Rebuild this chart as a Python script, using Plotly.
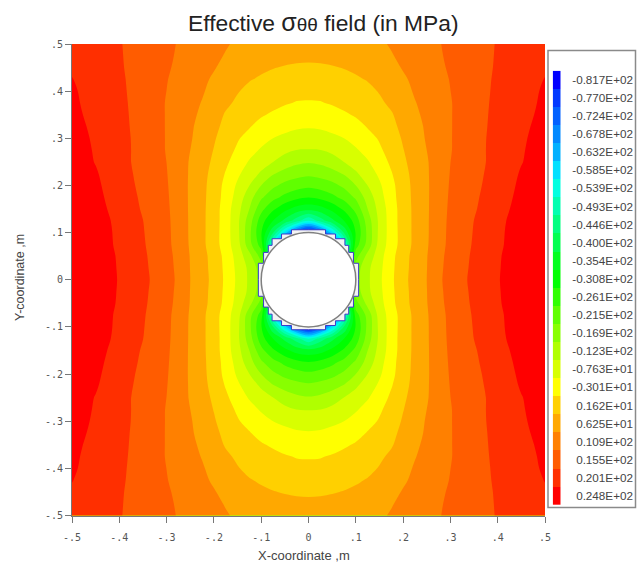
import plotly.graph_objects as go

x_quad = [0, .025, .05, .075, .1, .125, .15, .175, .2, .225, .25, .275, .3, .35, .4, .45, .5]
y_quad = [0, .025, .05, .075, .1, .125, .15, .175, .2, .225, .25, .275, .3, .325, .35, .375, .4, .425, .45, .475, .5]

# one row per y_quad value, one column per x_quad value
z_quad = [
    [-60, -45, -32, -22, -16.5, -10.8, -6.2, -1.6, 2.6, 5.8, 8.6, 12.4, 15, 19, 22.2, 25.3, 27],
    [-70, -55, -38, -25, -17, -11, -6.5, -1.8, 2.4, 5.6, 8.5, 12.2, 14.8, 18.8, 22.1, 25.2, 27],
    [-85, -75, -65, -45, -21, -13, -7.1, -2.1, 2.2, 5.5, 8.4, 12, 14.6, 18.6, 22, 25, 27],
    [-90, -88, -80, -55, -26, -17.5, -8, -3.2, 1.6, 5, 8.1, 11.6, 14.3, 18.3, 21.7, 24.7, 26.7],
    [-85, -75, -58, -42, -28, -18, -8.6, -3.2, 1.5, 5, 8, 11.5, 14.2, 18.1, 21.6, 24.6, 26.5],
    [-51.6, -45, -39, -33.1, -26.3, -17, -8.8, -3, 1.5, 5, 8, 11.4, 14.1, 17.9, 21.4, 24.4, 26.3],
    [-36, -35, -31.7, -27.6, -22.4, -14.6, -8.2, -3, 1.6, 5, 8, 11.1, 14, 17.4, 21, 23.9, 25.9],
    [-28.2, -27, -25, -22.3, -18.4, -12.6, -7.1, -2.4, 1.8, 5.1, 8, 11, 13.8, 17.1, 20.5, 23.6, 25.6],
    [-22.8, -22, -20.6, -18.2, -14.6, -9.9, -6, -2, 2, 5.2, 8, 10.9, 13.6, 16.8, 20, 23.3, 25.3],
    [-18.2, -17.4, -16.2, -14.2, -10.6, -7.6, -4.5, -1, 2.5, 5.4, 8.1, 10.8, 13.4, 16.6, 19.6, 22.9, 25],
    [-14.2, -13.6, -12, -9.9, -7.9, -5.7, -2.9, .2, 3.2, 5.7, 8.2, 10.8, 13.2, 16.5, 19.2, 22.3, 24.8],
    [-10.1, -10, -8.9, -7.2, -5.8, -3.7, -1.3, 1, 3.8, 6.2, 8.6, 10.9, 13, 16.4, 19.3, 22.1, 24.5],
    [-7.5, -7.1, -6.3, -5.3, -3.7, -2, -.3, 2, 4.4, 6.7, 9, 11, 13, 16.2, 19.4, 21.9, 24.2],
    [-4.9, -4.7, -4, -3.2, -2.1, -.4, 1.3, 2.9, 5, 7.2, 9.2, 11.1, 13, 16, 19.3, 21.6, 23.9],
    [-3, -2.7, -2.2, -1.3, -.2, 1, 2.3, 3.6, 5.6, 7.8, 9.6, 11.2, 13, 16, 19.1, 21.3, 23.5],
    [-1, -.9, -.3, .6, 1.5, 2.4, 3.3, 4.7, 6.5, 8.4, 9.9, 11.4, 13, 16, 18.9, 21.1, 23.2],
    [.45, .55, .8, 1.3, 2, 3, 4.2, 5.7, 7.3, 9, 10.3, 11.7, 13.2, 16, 18.7, 20.9, 23],
    [2.2, 2.3, 2.5, 2.9, 3.5, 4.2, 5.2, 6.5, 8, 9.5, 10.8, 12, 13.4, 16.1, 18.5, 20.7, 22.6],
    [3.5, 3.55, 3.75, 4.1, 4.6, 5.3, 6.2, 7.4, 8.9, 10.2, 11.3, 12.5, 13.7, 16.1, 18.3, 20.4, 22.1],
    [4.6, 4.7, 4.9, 5.3, 5.8, 6.4, 7.2, 8.3, 9.6, 10.8, 11.7, 12.8, 13.9, 16.1, 18.2, 20.2, 21.9],
    [5.5, 5.5, 5.7, 6, 6.4, 7, 7.9, 9, 10.1, 11.1, 12.1, 13, 14, 16.2, 18.1, 20, 21.8],
]

# Legend
legend_labels = ["-0.817E+02", "-0.770E+02", "-0.724E+02", "-0.678E+02", "-0.632E+02", "-0.585E+02",
                 "-0.539E+02", "-0.493E+02", "-0.446E+02", "-0.400E+02", "-0.354E+02", "-0.308E+02",
                 "-0.261E+02", "-0.215E+02", "-0.169E+02", "-0.123E+02", "-0.763E+01", "-0.301E+01",
                 "0.162E+01", "0.625E+01", "0.109E+02", "0.155E+02", "0.201E+02", "0.248E+02"]
legend_values = [-81.7, -77.0, -72.4, -67.8, -63.2, -58.5, -53.9, -49.3, -44.6, -40.0, -35.4, -30.8,
                 -26.1, -21.5, -16.9, -12.3, -7.63, -3.01, 1.62, 6.25, 10.9, 15.5, 20.1, 24.8]
legend_colors = ["#0000ff", "#0038ff", "#0060ff", "#0088ff", "#00b0ff", "#00e0ff",
                 "#00ffe0", "#00ffb0", "#00ff80", "#00ff50", "#00ff20", "#00ff00",
                 "#30ff00", "#60ff00", "#88ff00", "#b0ff00", "#d8ff00", "#ffff00",
                 "#ffd000", "#ffa800", "#ff8000", "#ff5c00", "#ff3000", "#ff0000"]

# Axis ticks
tick_vals = [-.5, -.4, -.3, -.2, -.1, 0, .1, .2, .3, .4, .5]
tick_text = ["-.5", "-.4", "-.3", "-.2", "-.1", "0", ".1", ".2", ".3", ".4", ".5"]

# Stepped mesh edge round the hole (upper-left quadrant)
stair_x = [0, -.036, -.036, -.057, -.057, -.077, -.077, -.085, -.085, -.095, -.095, -.106, -.106]
stair_y = [.106, .106, .097, .097, .087, .087, .073, .073, .058, .058, .035, .035, 0]
hole_radius = .1

# ---- mirror the quadrant into the full square
x_full = [-v for v in reversed(x_quad[1:])] + x_quad
y_full = [-v for v in reversed(y_quad[1:])] + y_quad
rows = [list(reversed(r[1:])) + r for r in z_quad]
z_full = list(reversed(rows[1:])) + rows

# closed loop: upper-left, lower-left, lower-right, upper-right
loop_x = stair_x + list(reversed(stair_x[:-1])) + [-v for v in stair_x[1:]] + [-v for v in reversed(stair_x[:-1])]
loop_y = stair_y + [-v for v in reversed(stair_y[:-1])] + [-v for v in stair_y[1:]] + list(reversed(stair_y[:-1]))

zmin, zmax = legend_values[0], legend_values[-1]
colorscale = [[(v - zmin) / (zmax - zmin), c] for v, c in zip(legend_values, legend_colors)]
step = (zmax - zmin) / (len(legend_values) - 1)

W, H = 641, 563
fig = go.Figure()
fig.add_trace(go.Contour(
    x=x_full, y=y_full, z=z_full, colorscale=colorscale, zmin=zmin, zmax=zmax, showscale=False,
    autocontour=False,
    contours=dict(start=zmin + step / 2, end=zmax - step / 2 + 1e-6, size=step, coloring="fill", showlines=False),
    line=dict(width=0, smoothing=1.0), hoverinfo="skip",
))
fig.add_trace(go.Scatter(
    x=loop_x, y=loop_y, mode="lines", fill="toself", fillcolor="#f4f4f4",
    line=dict(color="#3a3ac8", width=1), hoverinfo="skip", showlegend=False,
))
fig.add_trace(go.Heatmap(
    x=[0], y=legend_labels, z=[[v] for v in legend_values], xaxis="x2", yaxis="y2",
    colorscale=colorscale, zmin=zmin, zmax=zmax, showscale=False, hoverinfo="skip",
))

tick_font = dict(family="DejaVu Sans Mono", size=10, color="#555555")
axis_common = dict(range=[-.5, .5], tickmode="array", tickvals=tick_vals, ticktext=tick_text,
                   ticks="outside", ticklen=6, tickcolor="#777777", tickfont=tick_font,
                   showline=True, linecolor="#777777", linewidth=1, showgrid=False, zeroline=False)

fig.update_layout(
    width=W, height=H, margin=dict(l=0, r=0, t=0, b=0, pad=0, autoexpand=False),
    paper_bgcolor="white", plot_bgcolor="white", showlegend=False,
    xaxis=dict(domain=[72 / W, 545 / W], anchor="y", ticklabelstandoff=6, **axis_common),
    yaxis=dict(domain=[1 - 515.5 / H, 1 - 44 / H], anchor="x", **axis_common),
    xaxis2=dict(domain=[552.7 / W, 560.7 / W], anchor="y2", visible=False),
    yaxis2=dict(domain=[1 - 505 / H, 1 - 70.7 / H], anchor="free", position=633 / W, side="left",
                type="category", autorange="reversed", ticks="", showline=False, showgrid=False,
                zeroline=False, tickfont=dict(family="Liberation Sans", size=11.7, color="#444444")),
    shapes=[
        dict(type="circle", xref="x", yref="y", x0=-hole_radius, x1=hole_radius, y0=-hole_radius, y1=hole_radius,
             fillcolor="white", line=dict(color="#808080", width=1.5)),
        dict(type="rect", xref="paper", yref="paper", x0=548 / W, x1=635.5 / W, y0=1 - 507.5 / H, y1=1 - 50.5 / H,
             line=dict(color="#8a8a8a", width=1.5), fillcolor="rgba(0,0,0,0)"),
    ],
    annotations=[
        dict(text='Effective <span style="font-size:25px">σ</span><span style="font-size:19px">θθ</span> field (in MPa)',
             x=323 / W, y=1 - 22 / H, xref="paper", yref="paper", showarrow=False, xanchor="center", yanchor="middle",
             font=dict(family="Liberation Sans", size=22.8, color="#222222")),
        dict(text="X-coordinate ,m", x=304 / W, y=1 - 555 / H, xref="paper", yref="paper", showarrow=False,
             xanchor="center", yanchor="middle",
             font=dict(family="Liberation Sans", size=13, color="#444444")),
        dict(text="Y-coordinate ,m", x=20 / W, y=1 - 278 / H, xref="paper", yref="paper", showarrow=False, textangle=-90,
             xanchor="center", yanchor="middle",
             font=dict(family="Liberation Sans", size=12.5, color="#444444")),
    ],
)
fig.write_html("out.html", config=dict(displayModeBar=False),
               post_script="document.body.style.margin='0';document.documentElement.style.overflow='hidden';")
